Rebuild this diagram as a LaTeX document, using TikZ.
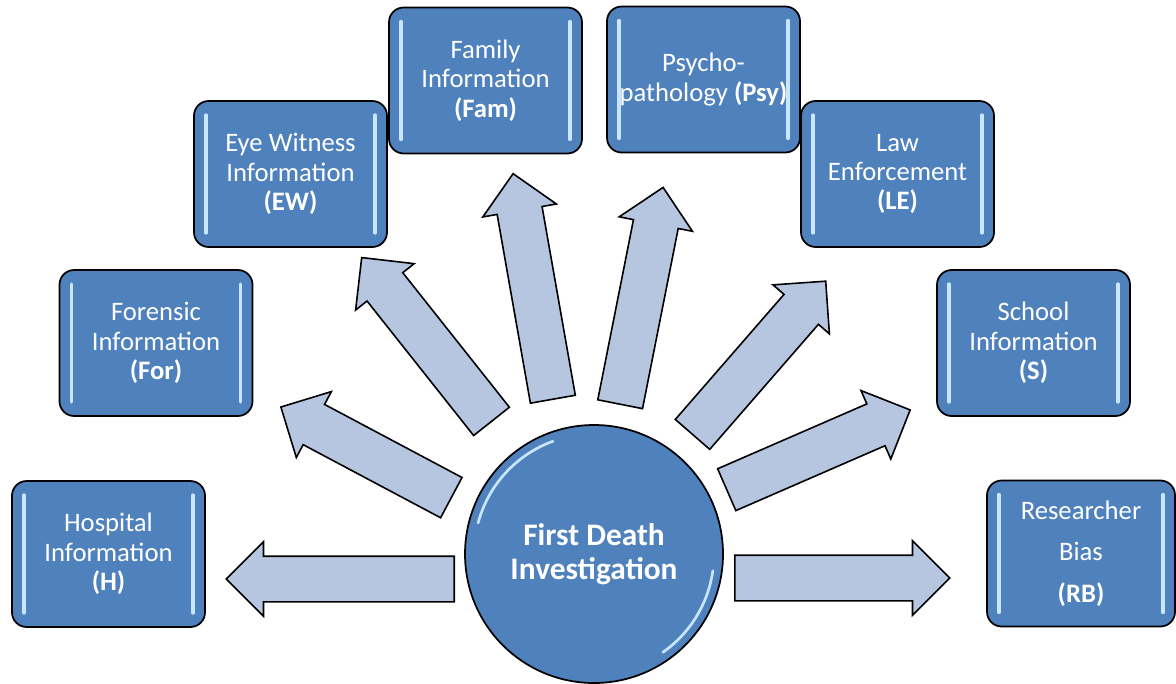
\documentclass[tikz,border=0pt]{standalone}
\usepackage{fontspec}
\setmainfont{Carlito}
\usepackage{tikz}
\usetikzlibrary{shapes.arrows}

\definecolor{boxblue}{RGB}{79,129,189}
\definecolor{arrowblue}{RGB}{183,198,224}
\definecolor{glint}{RGB}{200,230,255}

\begin{document}
\begin{tikzpicture}[x=0.75pt,y=0.75pt,
  info/.style={draw=black, line width=1.3pt, fill=boxblue, rounded corners=11pt,
    minimum width=144.75pt, minimum height=109.5pt, inner sep=0pt, align=center,
    text=white, font=\fontsize{20}{22}\selectfont,
    path picture={
      \draw[glint, line width=2.4pt, line cap=round]
        ([xshift=9pt,yshift=-10.5pt]path picture bounding box.north west) -- ([xshift=9pt,yshift=10.5pt]path picture bounding box.south west)
        ([xshift=-9pt,yshift=-10.5pt]path picture bounding box.north east) -- ([xshift=-9pt,yshift=10.5pt]path picture bounding box.south east);
    }},
  hub/.style={circle, draw=black, line width=1.3pt, fill=boxblue, minimum size=193.5pt,
    inner sep=0pt, align=center, text=white, font=\bfseries\fontsize{23.5}{25}\selectfont,
    path picture={
      \draw[glint, line width=2pt, line cap=round]
        ([shift={(110:90pt)}]path picture bounding box.center) arc (110:165:90pt)
        ([shift={(-55:90pt)}]path picture bounding box.center) arc (-55:-8:90pt);
    }},
  fat/.style={single arrow, draw=black, line width=1.2pt, fill=arrowblue,
    inner xsep=0pt, inner ysep=16.5pt, single arrow head extend=10.9pt,
    single arrow tip angle=90, anchor=tail}]
  \useasboundingbox (0,0) rectangle (1176,683);

  \node[hub] (fdi) at (594,129) {First Death\\Investigation};

  \node[info] (H) at (108.5,129) {Hospital\\Information\\\textbf{(H)}};
  \node[info] (For) at (156,340) {Forensic\\Information\\\textbf{(For)}};
  \node[info] (EW) at (290.5,509) {Eye Witness\\Information\\\textbf{(EW)}};
  \node[info] (Fam) at (485.5,602.5) {Family\\Information\\\textbf{(Fam)}};
  \node[info] (Psy) at (703.5,603.5) {Psycho-\\pathology \textbf{(Psy)}};
  \node[info] (LE) at (897.5,509) {Law\\Enforcement\\\textbf{(LE)}};
  \node[info] (S) at (1033.5,340) {School\\Information\\\textbf{(S)}};
  \node[info, minimum width=141pt] (RB) at (1081,129.5) {Researcher\\[9pt]Bias\\[9pt]\textbf{(RB)}};

  % block arrows fanning out of the hub, placed by their tails
  \node[fat, minimum height=171pt, rotate=180] (toH) at (455,104) {};
  \node[fat, minimum height=144.75pt, rotate=152] (toFor) at (452,185) {};
  \node[fat, minimum height=156.75pt, rotate=128.4] (toEW) at (492,261) {};
  \node[fat, minimum height=171.75pt, rotate=100] (toFam) at (553,283) {};
  \node[fat, minimum height=165.75pt, rotate=78.8] (toPsy) at (620,278) {};
  \node[fat, minimum height=152.25pt, rotate=49] (toLE) at (692,248) {};
  \node[fat, minimum height=150pt, rotate=23.5] (toS) at (726,193) {};
  \node[fat, minimum height=161.25pt] (toRB) at (734,105) {};
\end{tikzpicture}
\end{document}
